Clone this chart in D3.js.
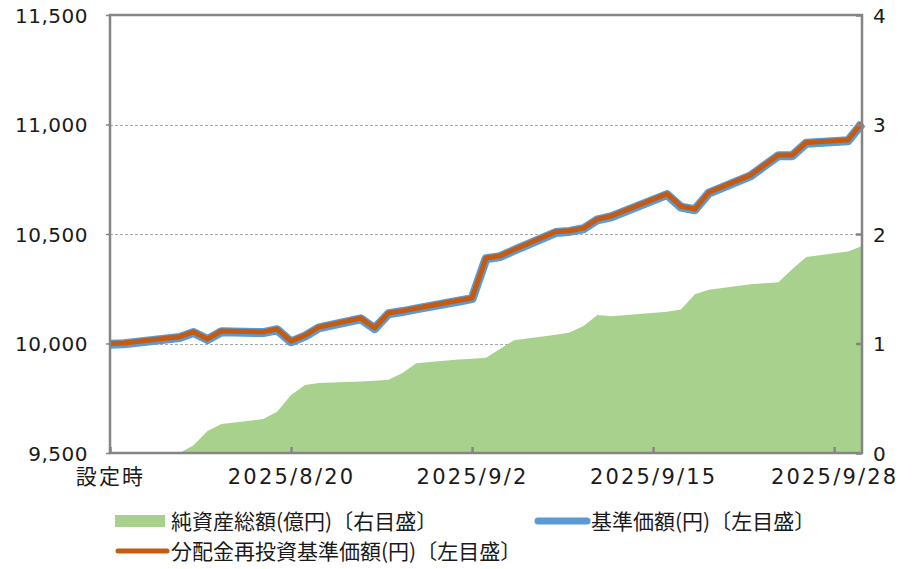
<!DOCTYPE html>
<html>
<head>
<meta charset="utf-8">
<script src="https://cdn.jsdelivr.net/npm/d3@7"></script>
<style>
  body { margin: 0; background: #fff; }
  text { font-family: "Noto Sans CJK JP", "Noto Sans", sans-serif; fill: #1a1a1a; }
  .num text { font-family: "DejaVu Sans", "Noto Sans CJK JP", sans-serif; }
</style>
</head>
<body>
<div id="chart"></div>
<script>
// dates (business days), 基準価額, 分配金再投資基準価額, 純資産総額(億円)
const dates = ["2025-08-07","2025-08-08","2025-08-12","2025-08-13","2025-08-14","2025-08-15",
  "2025-08-18","2025-08-19","2025-08-20","2025-08-21","2025-08-22","2025-08-25","2025-08-26",
  "2025-08-27","2025-08-28","2025-08-29","2025-09-01","2025-09-02","2025-09-03","2025-09-04",
  "2025-09-05","2025-09-08","2025-09-09","2025-09-10","2025-09-11","2025-09-12","2025-09-16",
  "2025-09-17","2025-09-18","2025-09-19","2025-09-22","2025-09-24","2025-09-25","2025-09-26",
  "2025-09-29","2025-09-30"];
const nav = [10000,10002,10031,10053,10021,10057,10053,10066,10011,10037,10075,10116,10071,
  10139,10149,10161,10196,10208,10390,10400,10428,10510,10515,10527,10568,10582,10683,
  10626,10614,10690,10769,10861,10861,10918,10929,11008];
const navReinvested = nav.slice(); // no distributions yet
const netAssets = [0,0,0,0.07,0.20,0.265,0.31,0.377,0.53,0.62,0.64,0.654,0.66,0.67,0.73,0.82,
  0.855,0.86,0.87,0.95,1.03,1.08,1.10,1.16,1.26,1.25,1.29,1.31,1.45,1.49,1.54,1.56,1.68,1.79,
  1.84,1.89];
const xTicks = ["2025-08-07","2025-08-20","2025-09-02","2025-09-15","2025-09-28"];
const leftTicks = [9500,10000,10500,11000,11500];
const rightTicks = [0,1,2,3,4];
const legendItems = [
  { label: "純資産総額(億円)〔右目盛〕", type: "area", color: "#a9d18e" },
  { label: "基準価額(円)〔左目盛〕", type: "line", color: "#5b9bd5" },
  { label: "分配金再投資基準価額(円)〔左目盛〕", type: "line", color: "#c55a11" }
];

const W = 913, H = 569;
const plot = { left: 110, right: 862, top: 15, bottom: 453 };
const parse = d3.utcParse("%Y-%m-%d");
const data = dates.map((d, i) => ({ date: parse(d), nav: nav[i], re: navReinvested[i], assets: netAssets[i] }));

const x = d3.scaleUtc().domain([parse("2025-08-07"), parse("2025-09-30")]).range([plot.left, plot.right]);
const yL = d3.scaleLinear().domain([9500, 11500]).range([plot.bottom, plot.top]);
const yR = d3.scaleLinear().domain([0, 4]).range([plot.bottom, plot.top]);

const svg = d3.select("#chart").append("svg")
  .attr("width", W).attr("height", H);

// gridlines
svg.append("g").selectAll("line")
  .data(leftTicks.filter(t => t > 9500 && t < 11500))
  .enter().append("line")
  .attr("x1", plot.left).attr("x2", plot.right)
  .attr("y1", d => Math.round(yL(d)) + 0.5).attr("y2", d => Math.round(yL(d)) + 0.5)
  .style("stroke", "#a6a6a6").style("stroke-width", 1).style("stroke-dasharray", "3,2");

// net assets area
svg.append("path")
  .datum(data)
  .attr("d", d3.area().x(d => x(d.date)).y0(yR(0)).y1(d => yR(d.assets)))
  .style("fill", "#a9d18e");

// lines
const line = key => d3.line().x(d => x(d.date)).y(d => yL(d[key]));
svg.append("path").datum(data).attr("d", line("nav"))
  .attr("transform", "translate(0,0.7)")
  .style("fill", "none").style("stroke", "#5b9bd5").style("stroke-width", 9)
  .style("stroke-linejoin", "round");
svg.append("path").datum(data).attr("d", line("re"))
  .style("fill", "none").style("stroke", "#c55a11").style("stroke-width", 5)
  .style("stroke-linejoin", "round");

// frame
svg.append("rect")
  .attr("x", plot.left).attr("y", plot.top)
  .attr("width", plot.right - plot.left).attr("height", plot.bottom - plot.top)
  .style("fill", "none").style("stroke", "#858585").style("stroke-width", 2.5);

// left axis
const gl = svg.append("g").attr("class", "num").attr("transform", `translate(${plot.left},0)`)
  .call(d3.axisLeft(yL).tickValues(leftTicks).tickSize(4).tickPadding(18).tickFormat(d3.format(",")));
gl.select(".domain").remove();
gl.selectAll("line").style("stroke", "#858585").style("stroke-width", 1.5);
gl.selectAll("text").style("font-size", "20px").style("letter-spacing", "0.5px")
  .attr("dy", "0.36em").style("fill", "#1a1a1a");

// right axis
const gr = svg.append("g").attr("class", "num").attr("transform", `translate(${plot.right},0)`)
  .call(d3.axisRight(yR).tickValues(rightTicks).tickSize(-6).tickPadding(11).tickFormat(d3.format("d")));
gr.select(".domain").remove();
gr.selectAll("line").style("stroke", "#858585").style("stroke-width", 2.5);
gr.selectAll("text").style("font-size", "20px").attr("dy", "0.36em").style("fill", "#1a1a1a");

// x axis
const fmt = d3.utcFormat("%Y/%-m/%-d");
const gx = svg.append("g").attr("class", "num").attr("transform", `translate(0,${plot.bottom})`)
  .call(d3.axisBottom(x).tickValues(xTicks.map(parse)).tickSize(-6).tickPadding(16)
    .tickFormat((d, i) => i === 0 ? "設定時" : fmt(d)));
gx.select(".domain").remove();
gx.selectAll("line").style("stroke", "#858585").style("stroke-width", 2.5);
gx.selectAll("text").style("font-size", "21px").style("letter-spacing", "2.2px")
  .style("fill", "#1a1a1a").attr("dy", "0.71em");

// legend
const legendPos = [[115, 521], [535, 521], [115, 551]];
legendItems.forEach((item, i) => {
  const [lx, ly] = legendPos[i];
  if (item.type === "area") {
    svg.append("rect").attr("x", lx).attr("y", ly - 6).attr("width", 50).attr("height", 12)
      .style("fill", item.color);
  } else {
    svg.append("line").attr("x1", lx + 3).attr("x2", lx + 52).attr("y1", ly).attr("y2", ly)
      .style("stroke", item.color).style("stroke-width", i === 1 ? 7 : 5)
      .style("stroke-linecap", "round");
  }
  svg.append("text").attr("x", lx + 56).attr("y", ly).attr("dy", "0.36em")
    .style("font-size", "21px").text(item.label);
});
</script>
</body>
</html>
